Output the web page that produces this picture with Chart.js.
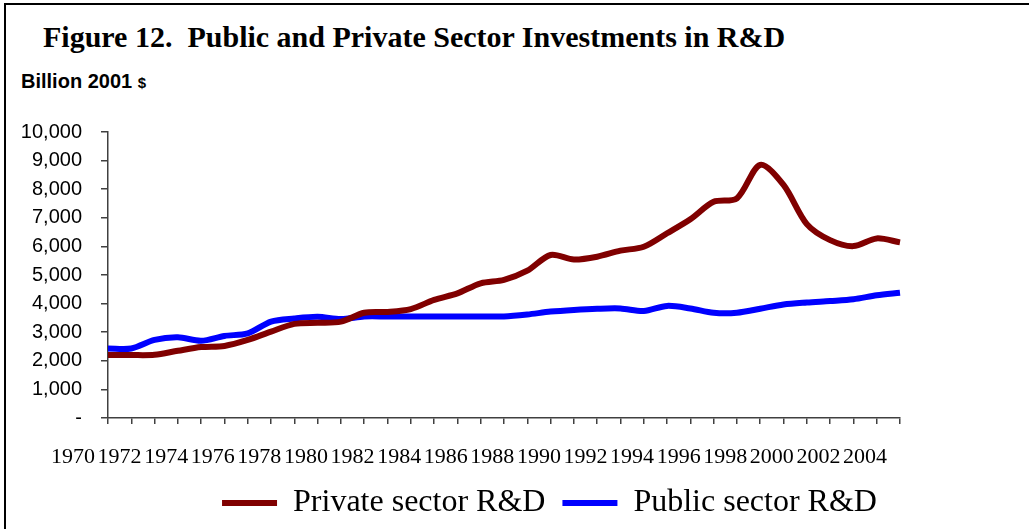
<!DOCTYPE html>
<html>
<head>
<meta charset="utf-8">
<title>Public and Private Sector Investments in R&amp;D</title>
<script src="https://cdn.jsdelivr.net/npm/chart.js@4/dist/chart.umd.min.js"></script>
<style>
    body { margin: 0; overflow: hidden; background: #fff; }
    .frame { position: absolute; left: 4px; top: 3px; width: 1100px; height: 600px; border: 2px solid #000; }
    .title { position: absolute; left: 43px; top: 22px; margin: 0; font: bold 30px/30px "Liberation Serif", "Times New Roman", serif; white-space: nowrap; color: #000; }
    .units { position: absolute; left: 21px; top: 71px; font: bold 20px/20px "Liberation Sans", Arial, sans-serif; color: #000; }
    .units span { font-size: 15px; }
    #chart { position: absolute; left: 0; top: 0; }
</style>
</head>
<body>
<div class="frame"></div>
<h1 class="title">Figure 12.&nbsp; Public and Private Sector Investments in R&amp;D</h1>
<div class="units">Billion 2001 <span>$</span></div>
<canvas id="chart" width="1089" height="529"></canvas>
<script>
var years = [1972, 1973, 1974, 1975, 1976, 1977, 1978, 1979, 1980, 1981, 1982, 1983, 1984, 1985, 1986, 1987, 1988,
    1989, 1990, 1991, 1992, 1993, 1994, 1995, 1996, 1997, 1998, 1999, 2000, 2001, 2002, 2003, 2004, 2005, 2006];

var privateRD = [2200, 2200, 2210, 2350, 2480, 2520, 2730, 3020, 3290, 3330, 3370, 3680, 3710, 3810, 4130, 4360, 4710,
    4830, 5150, 5700, 5540, 5640, 5850, 5990, 6460, 6950, 7560, 7680, 8850, 8150, 6780, 6220, 6010, 6280, 6140];

var publicRD = [2430, 2430, 2730, 2820, 2700, 2870, 2960, 3370, 3480, 3540, 3460, 3550, 3550, 3550, 3550, 3550, 3550,
    3550, 3620, 3720, 3780, 3820, 3830, 3740, 3920, 3830, 3680, 3680, 3820, 3970, 4040, 4090, 4150, 4290, 4380];

var leadingYear = '1970';

var axisColor = '#404040';
var serif = '"Liberation Serif", "Times New Roman", serif';
var sans = '"Liberation Sans", Arial, sans-serif';
var halfStep = 11.6;

// the year label that sits left of the y axis
var leadingYearLabel = {
    id: 'leadingYearLabel',
    afterDraw: function (chart) {
        var x = chart.scales.x;
        var step = x.getPixelForTick(1) - x.getPixelForTick(0);
        var ctx = chart.ctx;
        ctx.save();
        ctx.font = '22px ' + serif;
        ctx.fillStyle = '#000';
        ctx.textAlign = 'center';
        ctx.textBaseline = 'middle';
        ctx.fillText(leadingYear, x.getPixelForTick(0) - 2 * step + halfStep, x.top + 6 + 20 + 13.2);
        ctx.restore();
    }
};

new Chart(document.getElementById('chart'), {
    type: 'line',
    data: {
        labels: years,
        datasets: [{
            label: 'Private sector R&D',
            data: privateRD,
            borderColor: '#800000',
            backgroundColor: '#800000',
            borderWidth: 6,
            pointRadius: 0,
            tension: 0.3
        }, {
            label: 'Public sector R&D',
            data: publicRD,
            borderColor: '#0000ff',
            backgroundColor: '#0000ff',
            borderWidth: 6,
            pointRadius: 0,
            tension: 0.3
        }]
    },
    options: {
        responsive: false,
        animation: false,
        layout: { padding: { top: 132, left: 10, right: 0, bottom: 0 } },
        plugins: {
            tooltip: { enabled: false },
            legend: {
                position: 'bottom',
                labels: {
                    font: { family: serif, size: 32 },
                    color: '#000',
                    boxWidth: 55,
                    boxHeight: 6,
                    padding: 17,
                    generateLabels: function (chart) {
                        var items = Chart.defaults.plugins.legend.labels.generateLabels(chart);
                        items.forEach(function (it) { it.lineWidth = 0; });
                        return items;
                    }
                }
            }
        },
        scales: {
            x: {
                grid: { drawOnChartArea: false, color: axisColor, lineWidth: 1.5, tickLength: 6 },
                border: { color: axisColor, width: 1.5 },
                ticks: {
                    autoSkip: false,
                    maxRotation: 0,
                    labelOffset: halfStep,
                    padding: 20,
                    color: '#000',
                    font: { family: serif, size: 22 },
                    callback: function (value, i) {
                        if (i === years.length - 1 || years[i] % 2 !== 0) return '';
                        return String(years[i]);
                    }
                },
                afterFit: function (axis) { axis.height = 52; }
            },
            y: {
                min: 0,
                max: 10000,
                grid: { drawOnChartArea: false, color: axisColor, lineWidth: 1.5, tickLength: 7 },
                border: { color: axisColor, width: 1.5 },
                ticks: {
                    stepSize: 1000,
                    autoSkip: false,
                    padding: 19,
                    color: '#000',
                    font: { family: sans, size: 20 },
                    callback: function (value) {
                        return value === 0 ? '-' : value.toLocaleString('en-US');
                    }
                },
                afterFit: function (axis) { axis.width = 98; }
            },
            // empty right axis, only reserves the space right of the plot
            y2: {
                position: 'right',
                grid: { display: false },
                border: { display: false },
                ticks: { display: false },
                afterFit: function (axis) { axis.width = 189; }
            }
        }
    },
    plugins: [leadingYearLabel]
});
</script>
</body>
</html>
